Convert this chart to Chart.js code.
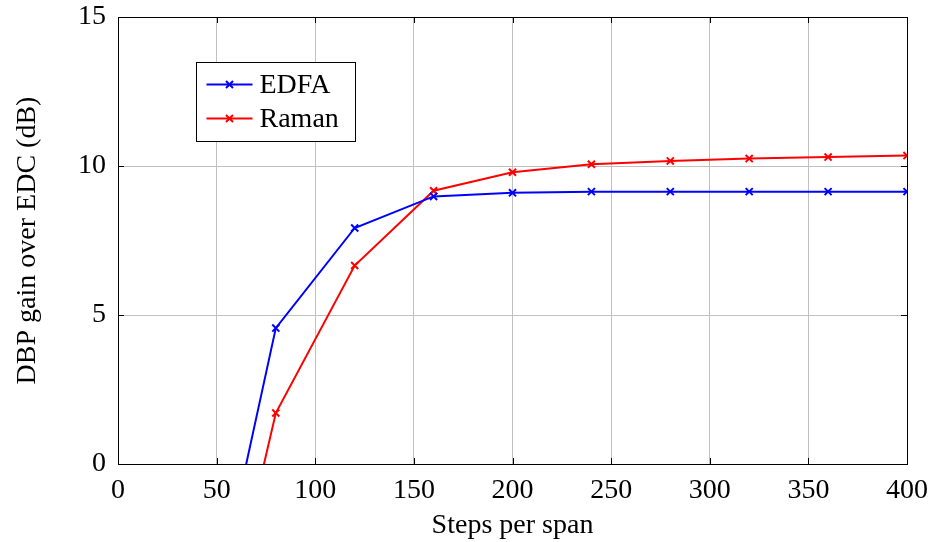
<!DOCTYPE html>
<html>
<head>
<meta charset="utf-8">
<script src="https://cdn.jsdelivr.net/npm/chart.js@4"></script>
<style>
  html, body { margin: 0; padding: 0; background: #fff; }
  #wrap { width: 931px; height: 542px; }
</style>
</head>
<body>
<div id="wrap"><canvas id="chart" width="931" height="542"></canvas></div>
<script>
const steps = [40, 80, 120, 160, 200, 240, 280, 320, 360, 400];
const edfaGain = [-7.6, 4.56, 7.92, 8.98, 9.1, 9.14, 9.14, 9.14, 9.14, 9.14];
const ramanGain = [-9.7, 1.71, 6.66, 9.17, 9.79, 10.06, 10.17, 10.25, 10.3, 10.35];
const xTicks = [0, 50, 100, 150, 200, 250, 300, 350, 400];
const yTicks = [0, 5, 10, 15];

const font = 'Liberation Serif, Times New Roman, serif';

const toPoints = (vals) => steps.map((s, i) => ({ x: s, y: vals[i] }));

// pgfplots-like legend box inside the axes, plus inner tick marks and frame
const extras = {
  id: 'extras',
  afterDraw(chart) {
    const ctx = chart.ctx;
    const a = chart.chartArea;
    const xs = chart.scales.x, ys = chart.scales.y;
    ctx.save();
    ctx.strokeStyle = '#000';
    ctx.lineWidth = 1;
    // inner tick marks
    ctx.beginPath();
    xTicks.forEach(t => {
      const px = Math.round(xs.getPixelForValue(t)) + 0.5;
      ctx.moveTo(px, a.bottom); ctx.lineTo(px, a.bottom - 6);
      ctx.moveTo(px, a.top); ctx.lineTo(px, a.top + 6);
    });
    yTicks.forEach(t => {
      const py = Math.round(ys.getPixelForValue(t)) + 0.5;
      ctx.moveTo(a.left, py); ctx.lineTo(a.left + 6, py);
      ctx.moveTo(a.right, py); ctx.lineTo(a.right - 6, py);
    });
    ctx.stroke();
    // frame
    ctx.strokeRect(Math.round(a.left) + 0.5, Math.round(a.top) + 0.5,
      Math.round(a.right - a.left), Math.round(a.bottom - a.top));

    // legend
    const bx = 196.5, by = 62.5, bw = 159, bh = 79;
    ctx.fillStyle = '#fff';
    ctx.fillRect(bx, by, bw, bh);
    ctx.strokeRect(bx, by, bw, bh);
    ctx.font = '28px ' + font;
    ctx.textBaseline = 'middle';
    chart.data.datasets.forEach((ds, i) => {
      const cy = by + 22 + i * 34;
      ctx.strokeStyle = ds.borderColor;
      ctx.lineWidth = 2;
      ctx.beginPath();
      ctx.moveTo(bx + 10, cy); ctx.lineTo(bx + 56, cy);
      ctx.stroke();
      const mx = bx + 33, r = 3.5;
      ctx.beginPath();
      ctx.moveTo(mx - r, cy - r); ctx.lineTo(mx + r, cy + r);
      ctx.moveTo(mx - r, cy + r); ctx.lineTo(mx + r, cy - r);
      ctx.stroke();
      ctx.fillStyle = '#000';
      ctx.fillText(ds.label, bx + 63, cy + 1);
    });
    ctx.restore();
  }
};

new Chart(document.getElementById('chart'), {
  type: 'line',
  data: {
    datasets: [
      {
        label: 'EDFA',
        data: toPoints(edfaGain),
        borderColor: '#0000ff',
        backgroundColor: '#0000ff',
        borderWidth: 2,
        pointStyle: 'crossRot',
        pointRadius: 5,
        pointBorderWidth: 2,
        tension: 0
      },
      {
        label: 'Raman',
        data: toPoints(ramanGain),
        borderColor: '#ff0000',
        backgroundColor: '#ff0000',
        borderWidth: 2,
        pointStyle: 'crossRot',
        pointRadius: 5,
        pointBorderWidth: 2,
        tension: 0
      }
    ]
  },
  options: {
    responsive: false,
    animation: false,
    layout: { padding: { left: 0, right: 24, top: 17, bottom: 0 } },
    plugins: {
      legend: { display: false },
      tooltip: { enabled: false }
    },
    scales: {
      x: {
        type: 'linear',
        min: 0,
        max: 400,
        afterBuildTicks: (s) => { s.ticks = xTicks.map(v => ({ value: v })); },
        afterFit: (s) => { s.height = 78; s.paddingLeft = 0; s.paddingRight = 0; },
        grid: { color: '#c0c0c0', lineWidth: 1, drawTicks: false },
        border: { display: false },
        ticks: { color: '#000', font: { family: font, size: 28 }, padding: 10, maxRotation: 0 },
        title: { display: true, text: 'Steps per span', color: '#000', font: { family: font, size: 28 }, padding: { top: 4, bottom: 0 } }
      },
      y: {
        min: 0,
        max: 15,
        afterBuildTicks: (s) => { s.ticks = yTicks.map(v => ({ value: v })); },
        afterFit: (s) => { s.width = 118; s.paddingTop = 0; s.paddingBottom = 0; },
        grid: { color: '#c0c0c0', lineWidth: 1, drawTicks: false },
        border: { display: false },
        ticks: { color: '#000', font: { family: font, size: 28 }, padding: 12 },
        title: { display: true, text: 'DBP gain over EDC (dB)', color: '#000', font: { family: font, size: 28 }, padding: { top: 11, bottom: 20 } }
      }
    }
  },
  plugins: [extras]
});
</script>
</body>
</html>
